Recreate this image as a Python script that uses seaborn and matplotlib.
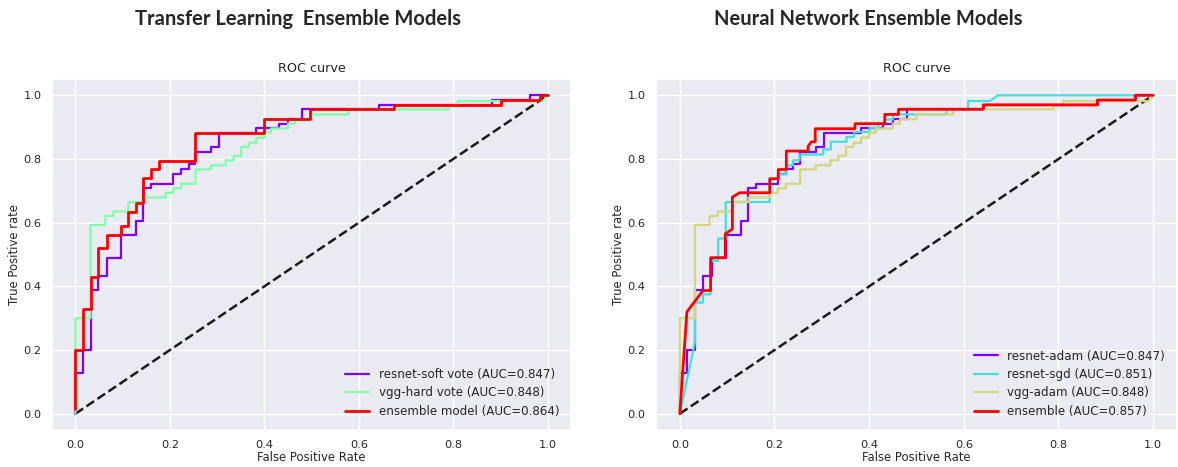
import matplotlib
matplotlib.use("Agg")
import matplotlib.pyplot as plt
import seaborn as sns

# ROC vertices (fpr, tpr)
resnet_soft_fpr = [0, 0, 0.015, 0.015, 0.032, 0.032, 0.048, 0.048, 0.067, 0.067, 0.097, 0.097,
                   0.129, 0.129, 0.143, 0.143, 0.16, 0.16, 0.207, 0.207, 0.224, 0.224, 0.24, 0.24,
                   0.254, 0.254, 0.287, 0.287, 0.305, 0.305, 0.383, 0.383, 0.43, 0.43, 0.45, 0.45,
                   0.479, 0.479, 0.642, 0.642, 0.883, 0.883, 0.963, 0.963, 1.0]
resnet_soft_tpr = [0, 0.127, 0.127, 0.2, 0.2, 0.387, 0.387, 0.432, 0.432, 0.49, 0.49, 0.561,
                   0.561, 0.605, 0.605, 0.708, 0.708, 0.722, 0.722, 0.752, 0.752, 0.767, 0.767, 0.783,
                   0.783, 0.823, 0.823, 0.838, 0.838, 0.883, 0.883, 0.896, 0.896, 0.911, 0.911, 0.925,
                   0.925, 0.956, 0.956, 0.97, 0.97, 0.985, 0.985, 1.0, 1.0]

vgg_hard_fpr = [0, 0, 0.032, 0.032, 0.063, 0.063, 0.08, 0.08, 0.112, 0.112, 0.145, 0.145,
                0.191, 0.191, 0.207, 0.207, 0.224, 0.224, 0.254, 0.254, 0.287, 0.287, 0.318, 0.318,
                0.335, 0.335, 0.351, 0.351, 0.367, 0.367, 0.383, 0.383, 0.4, 0.4, 0.414, 0.414,
                0.45, 0.45, 0.465, 0.465, 0.5, 0.5, 0.578, 0.578, 0.79, 0.79, 0.81, 0.81, 0.99, 1.0]
vgg_hard_tpr = [0, 0.3, 0.3, 0.593, 0.593, 0.621, 0.621, 0.635, 0.635, 0.665, 0.665, 0.679,
                0.679, 0.694, 0.694, 0.708, 0.708, 0.722, 0.722, 0.767, 0.767, 0.78, 0.78, 0.796,
                0.796, 0.81, 0.81, 0.838, 0.838, 0.851, 0.851, 0.867, 0.867, 0.883, 0.883, 0.896,
                0.896, 0.911, 0.911, 0.925, 0.925, 0.94, 0.94, 0.956, 0.956, 0.969, 0.969, 0.982, 0.982, 1.0]

tl_ensemble_fpr = [0, 0, 0.015, 0.015, 0.032, 0.032, 0.048, 0.048, 0.067, 0.067, 0.097, 0.097,
                   0.112, 0.112, 0.129, 0.129, 0.143, 0.143, 0.16, 0.16, 0.176, 0.176, 0.254, 0.254,
                   0.4, 0.4, 0.497, 0.497, 0.674, 0.674, 0.902, 0.902, 0.983, 0.983, 1.0]
tl_ensemble_tpr = [0.014, 0.2, 0.2, 0.33, 0.33, 0.43, 0.43, 0.52, 0.52, 0.56, 0.56, 0.59,
                   0.59, 0.635, 0.635, 0.663, 0.663, 0.74, 0.74, 0.767, 0.767, 0.794, 0.794, 0.883,
                   0.883, 0.925, 0.925, 0.956, 0.956, 0.969, 0.969, 0.985, 0.985, 1.0, 1.0]

# right panel: resnet-adam and vgg-adam are the same curves as on the left
resnet_adam_fpr, resnet_adam_tpr = resnet_soft_fpr, resnet_soft_tpr
vgg_adam_fpr, vgg_adam_tpr = vgg_hard_fpr, vgg_hard_tpr

resnet_sgd_fpr = [0, 0.032, 0.032, 0.049, 0.049, 0.065, 0.065, 0.081, 0.081, 0.097, 0.097, 0.19,
                  0.19, 0.208, 0.208, 0.225, 0.225, 0.239, 0.239, 0.253, 0.253, 0.303, 0.303, 0.319,
                  0.319, 0.352, 0.352, 0.368, 0.368, 0.401, 0.401, 0.419, 0.419, 0.433, 0.433, 0.45,
                  0.45, 0.563, 0.563, 0.609, 0.609, 0.655, 0.672, 1.0]
resnet_sgd_tpr = [0, 0.225, 0.349, 0.349, 0.375, 0.375, 0.48, 0.48, 0.55, 0.55, 0.665, 0.665,
                  0.737, 0.737, 0.752, 0.752, 0.78, 0.78, 0.796, 0.796, 0.814, 0.814, 0.83, 0.83,
                  0.854, 0.854, 0.869, 0.869, 0.885, 0.885, 0.898, 0.898, 0.911, 0.911, 0.924, 0.924,
                  0.94, 0.94, 0.956, 0.956, 0.982, 0.982, 1.0, 1.0]

nn_ensemble_fpr = [0, 0.015, 0.049, 0.065, 0.065, 0.096, 0.096, 0.111, 0.111, 0.126, 0.19, 0.19,
                   0.208, 0.208, 0.225, 0.225, 0.271, 0.271, 0.278, 0.286, 0.286, 0.37, 0.37, 0.433,
                   0.433, 0.462, 0.462, 0.641, 0.641, 0.882, 0.882, 0.962, 0.962, 1.0]
nn_ensemble_tpr = [0, 0.32, 0.387, 0.387, 0.49, 0.49, 0.565, 0.58, 0.68, 0.694, 0.694, 0.738,
                   0.738, 0.767, 0.767, 0.825, 0.825, 0.84, 0.854, 0.854, 0.895, 0.895, 0.911, 0.911,
                   0.94, 0.94, 0.956, 0.956, 0.97, 0.97, 0.985, 0.985, 1.0, 1.0]

chance = [0, 1]

left_curves = [
    ("resnet-soft vote (AUC=0.847)", resnet_soft_fpr, resnet_soft_tpr, "#8000ff", 1.6),
    ("vgg-hard vote (AUC=0.848)", vgg_hard_fpr, vgg_hard_tpr, "#80ffaa", 1.6),
    ("ensemble model (AUC=0.864)", tl_ensemble_fpr, tl_ensemble_tpr, "#ff0000", 2.0),
]
right_curves = [
    ("resnet-adam (AUC=0.847)", resnet_adam_fpr, resnet_adam_tpr, "#8000ff", 1.6),
    ("resnet-sgd (AUC=0.851)", resnet_sgd_fpr, resnet_sgd_tpr, "#40e0e0", 1.6),
    ("vgg-adam (AUC=0.848)", vgg_adam_fpr, vgg_adam_tpr, "#d4d67c", 1.6),
    ("ensemble (AUC=0.857)", nn_ensemble_fpr, nn_ensemble_tpr, "#ff0000", 2.0),
]


def draw_roc(ax, curves):
    sns.lineplot(x=chance, y=chance, ax=ax, color="k", linestyle="--", linewidth=1.8)
    for label, fpr, tpr, color, width in curves:
        sns.lineplot(x=fpr, y=tpr, ax=ax, sort=False, estimator=None,
                     color=color, linewidth=width, label=label)
    ax.set_title("ROC curve", fontsize=9.2, color=".15", pad=5)
    ax.set_xlabel("False Positive Rate", fontsize=8.4, labelpad=1)
    ax.set_ylabel("True Positive rate", fontsize=8.4, labelpad=2)
    ax.tick_params(labelsize=8.2, pad=1.5)
    ax.legend(loc="lower right", frameon=False, fontsize=8.6, handlelength=2.0,
              labelspacing=0.45, borderaxespad=0.6)


sns.set_theme(style="darkgrid")
plt.rcParams["font.family"] = ["DejaVu Sans"]

fig = plt.figure(figsize=(11.78, 4.67), dpi=100)
ax_left = fig.add_axes([0.044, 0.080, 0.441, 0.750])
ax_right = fig.add_axes([0.557, 0.080, 0.442, 0.750])
draw_roc(ax_left, left_curves)
draw_roc(ax_right, right_curves)

fig.text(0.253, 0.960, "Transfer Learning  Ensemble Models", ha="center", va="center",
         fontsize=14.5, fontweight="bold", family=["Lato", "DejaVu Sans"])
fig.text(0.737, 0.960, "Neural Network Ensemble Models", ha="center", va="center",
         fontsize=14.5, fontweight="bold", family=["Lato", "DejaVu Sans"])

fig.savefig("out.png", dpi=100)
